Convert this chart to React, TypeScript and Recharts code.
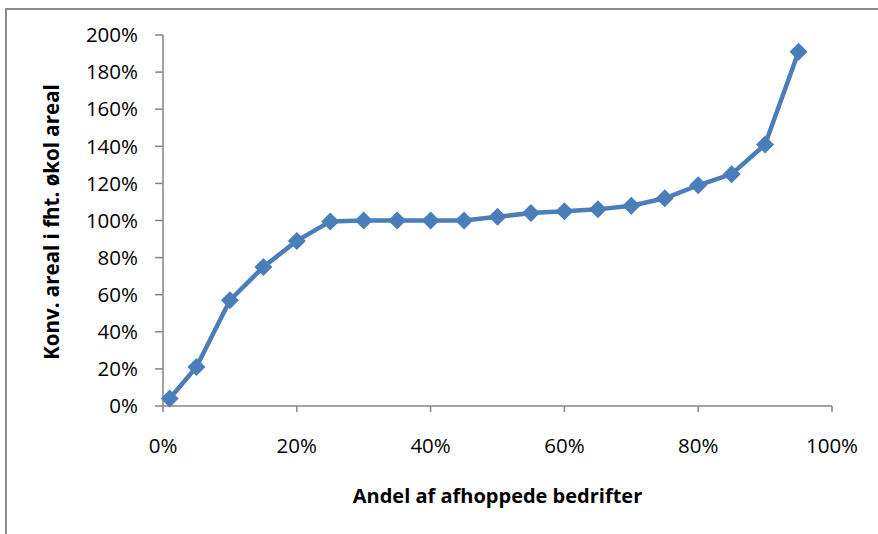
import React from "react";
import { LineChart, Line, XAxis, YAxis, Label } from "recharts";

const andel = [0.01, 0.05, 0.1, 0.15, 0.2, 0.25, 0.3, 0.35, 0.4, 0.45, 0.5, 0.55, 0.6, 0.65, 0.7, 0.75, 0.8, 0.85, 0.9, 0.95];
const areal = [0.04, 0.21, 0.57, 0.75, 0.89, 0.995, 1.0, 1.0, 1.0, 1.0, 1.02, 1.04, 1.05, 1.06, 1.08, 1.12, 1.19, 1.25, 1.41, 1.91];
const xTicks = [0, 0.2, 0.4, 0.6, 0.8, 1];
const yTicks = [0, 0.2, 0.4, 0.6, 0.8, 1, 1.2, 1.4, 1.6, 1.8, 2];

const data = andel.map((x, i) => ({ x, y: areal[i] }));

const BLUE = "#4a7ebb";
const AXIS = "#868686";
const FONT = "'Open Sans', Lato, sans-serif";
const pct = (v: number) => `${Math.round(v * 100)}%`;

// diamant-markør som i Excel
const Diamond = (p: any) => {
  const { cx, cy } = p;
  if (cx == null || cy == null) return <g />;
  const r = 9;
  return (
    <polygon
      key={`d-${p.index}`}
      points={`${cx},${cy - r} ${cx + r},${cy} ${cx},${cy + r} ${cx - r},${cy}`}
      fill={BLUE}
    />
  );
};

export default function App() {
  return (
    <div style={{ position: "fixed", left: 0, top: 0, width: 878, height: 534, background: "#fff", fontFamily: FONT }}>
      <div style={{ position: "absolute", left: 5, top: 8, right: -10, bottom: -10, borderLeft: "2px solid #8c8c8c", borderTop: "2px solid #8c8c8c" }} />
      <LineChart width={878} height={534} data={data} margin={{ top: 35, right: 46, bottom: 0, left: 0 }}>
        <XAxis
          dataKey="x"
          type="number"
          domain={[0, 1]}
          ticks={xTicks}
          tickFormatter={pct}
          stroke={AXIS}
          strokeWidth={1.5}
          tickSize={6}
          tickMargin={26}
          height={128}
          tick={{ fill: "#000", fontSize: 20.5, fontFamily: FONT }}
        >
          <Label
            content={({ viewBox }: any) => (
              <text x={viewBox.x + viewBox.width / 2} y={503} textAnchor="middle" fontWeight="bold" fontSize={20} fontFamily={FONT} fill="#000">
                Andel af afhoppede bedrifter
              </text>
            )}
          />
        </XAxis>
        <YAxis
          type="number"
          domain={[0, 2]}
          ticks={yTicks}
          tickFormatter={pct}
          stroke={AXIS}
          strokeWidth={1.5}
          tickSize={8}
          tickMargin={17}
          width={163}
          interval={0}
          tick={{ fill: "#000", fontSize: 20.5, fontFamily: FONT }}
        >
          <Label
            content={() => (
              <text x={0} y={0} transform="translate(59,222) rotate(-90)" textAnchor="middle" fontWeight="bold" fontSize={20.5} fontFamily={FONT} fill="#000">
                Konv. areal i fht. økol areal
              </text>
            )}
          />
        </YAxis>
        <Line dataKey="y" stroke={BLUE} strokeWidth={4.5} dot={Diamond} activeDot={false} isAnimationActive={false} />
      </LineChart>
    </div>
  );
}
